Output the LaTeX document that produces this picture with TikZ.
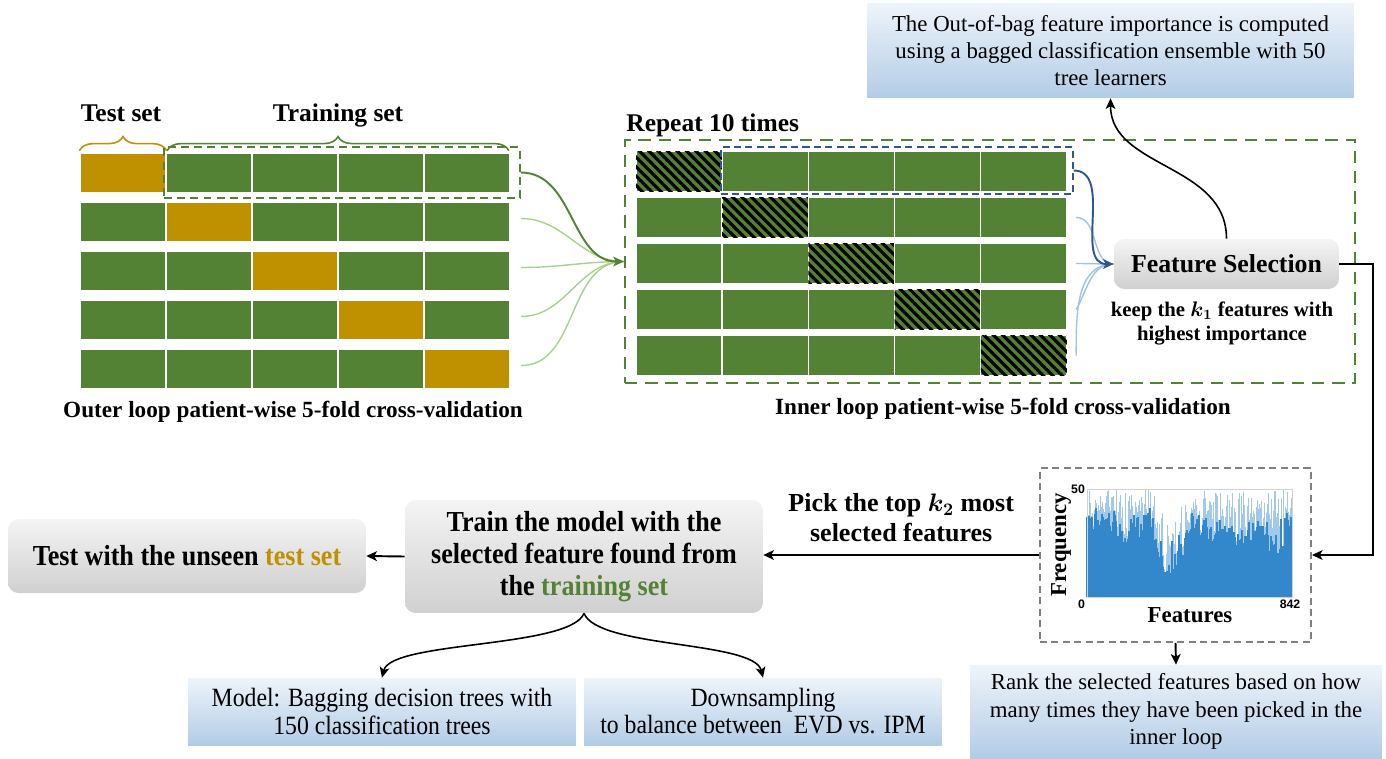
\documentclass[tikz,border=0pt]{standalone}
\usepackage{fontspec}
\setmainfont{Liberation Serif}
\setsansfont{Liberation Sans}
\newfontfamily\narrowfont[FakeStretch=0.9]{Liberation Serif}
\usepackage{bm}
\usetikzlibrary{arrows.meta,patterns.meta,decorations.pathreplacing,positioning}

\definecolor{cvgreen}{HTML}{548235}
\definecolor{cvgold}{HTML}{BF9000}
\definecolor{cvlightgreen}{HTML}{A9D18E}
\definecolor{cvblue}{HTML}{2F5597}
\definecolor{cvlightblue}{HTML}{9DC3E6}
\definecolor{histblue}{HTML}{3388CC}
\definecolor{boxtop}{HTML}{F4F4F4}
\definecolor{boxbot}{HTML}{D0D0D0}
\definecolor{notetop}{HTML}{EEF4FA}
\definecolor{notebot}{HTML}{B2CCE6}

\begin{document}
\begin{tikzpicture}[x=0.02cm, y=-0.02cm,
  cell/.style={draw=white, line width=0.7pt, fill=#1, minimum width=1.72cm,
               minimum height=0.8cm, inner sep=0pt},
  cell/.default=cvgreen,
  hatch/.style={cell, postaction={pattern={Lines[angle=-45,distance=3.8pt,line width=1.8pt]},
                pattern color=black}},
  ttl/.style={font=\bfseries\fontsize{14.5}{17}\selectfont, inner sep=0pt},
  loopcap/.style={font=\bfseries\fontsize{13.2}{16}\selectfont, inner sep=0pt},
  dbox/.style={draw=#1, dash pattern=on 4.5pt off 3pt, line width=0.9pt, inner sep=0pt},
  gbox/.style={rounded corners=6pt, top color=boxtop, bottom color=boxbot, align=center, inner sep=2pt},
  note/.style={top color=notetop, bottom color=notebot, align=center, inner sep=2pt,
               font=\fontsize{13}{15.6}\selectfont},
  arr/.style={-{Stealth[length=6pt,width=5.5pt,inset=1.5pt]}, line width=1.1pt},
  lbl/.style={font=\bfseries\fontsize{14.8}{17}\selectfont, align=center, inner sep=0pt},
  declare function={bump(\x,\c,\w)=max(0,1-((\x-\c)/\w)^2);},
]
\useasboundingbox (0,0) rectangle (1386,758);

%% Outer loop: 5 folds, gold = test fold
\foreach \r in {1,...,5}{
  \foreach \c in {1,...,5}{
    \ifnum\r=\c
      \node[cell=cvgold] (o-\r-\c) at ({123+86*(\c-1)},{173+49*(\r-1)}) {};
    \else
      \node[cell] (o-\r-\c) at ({123+86*(\c-1)},{173+49*(\r-1)}) {};
    \fi
  }
}
\draw[cvgold, line width=0.9pt, decorate, decoration={brace, amplitude=8pt}]
  ([yshift=1pt]o-1-1.north west) -- ([yshift=1pt]o-1-1.north east);
\draw[cvgreen, line width=0.9pt, decorate, decoration={brace, amplitude=8pt}]
  ([yshift=1pt,xshift=1pt]o-1-2.north west) -- ([yshift=1pt,xshift=-1pt]o-1-5.north east);
\node[ttl, anchor=base] (testlbl)  at (121,121) {Test set};
\node[ttl, anchor=base] (trainlbl) at (338,121) {Training set};
\node[dbox=cvgreen, minimum width=7.12cm, minimum height=1.02cm] (otrain) at (342,172.5) {};
\node[loopcap, anchor=base] (outercap) at (293,417) {Outer loop patient-wise 5-fold cross-validation};

%% Inner loop: hatched = validation fold
\foreach \r in {1,...,5}{
  \foreach \c in {1,...,5}{
    \ifnum\r=\c
      \node[hatch] (i-\r-\c) at ({679+86.2*(\c-1)},{171.5+46*(\r-1)}) {};
    \else
      \node[cell] (i-\r-\c) at ({679+86.2*(\c-1)},{171.5+46*(\r-1)}) {};
    \fi
  }
}
\node[dbox=cvgreen, dash pattern=on 7pt off 4.5pt, line width=1.4pt,
      minimum width=14.6cm, minimum height=4.86cm] (repeat) at (990,261.5) {};
\node[ttl, anchor=base west] (replbl) at (626,131) {Repeat 10 times};
\node[dbox=cvblue, dash pattern=on 4pt off 2.5pt, line width=0.8pt,
      minimum width=7.04cm, minimum height=0.94cm] (itrain) at (897,170.5) {};
\node[loopcap, anchor=base] (innercap) at (1003,414) {Inner loop patient-wise 5-fold cross-validation};

%% Outer folds feed the inner loop
\foreach \r in {2,...,5}
  \draw[cvlightgreen, line width=0.8pt] ([xshift=6pt,yshift=2pt]o-\r-5.east) to[out=0,in=180] (repeat.west);
\draw[cvgreen, line width=1.1pt, -{Stealth[length=6pt,width=5.5pt,inset=1.5pt]}]
  (otrain.east) to[out=0,in=180] (repeat.west);

%% Feature selection
\node[gbox, font=\bfseries\fontsize{14.7}{17}\selectfont, minimum width=4.5cm, minimum height=1cm]
  (fs) at (1226.5,264) {Feature Selection};
\node[font=\bfseries\fontsize{11.8}{13.7}\selectfont, align=center] (keep) at (1222,323)
  {keep the $\bm{k_1}$ features with\\highest importance};
\draw[cvlightblue, line width=0.8pt] ([xshift=5pt]i-2-5.east) to[out=0,in=180] (fs.west);
\draw[cvlightblue, line width=0.8pt] ([xshift=5pt]i-3-5.east) to[out=0,in=180] (fs.west);
\draw[cvlightblue, line width=0.8pt] ([xshift=5pt]i-4-5.east) to[out=60,in=180] (fs.west);
\draw[cvlightblue, line width=0.8pt] ([xshift=5pt]i-5-5.east) to[out=90,in=180] (fs.west);
\draw[cvblue, line width=1.1pt, -{Stealth[length=6pt,width=5.5pt,inset=1.5pt]}]
  (itrain.east) to[out=0,in=180] (fs.west);

\node[note, minimum width=9.74cm, minimum height=1.9cm] (oob) at (1110.5,50.5)
  {The Out-of-bag feature importance is computed\\using a bagged classification ensemble with 50\\tree learners};
\draw[arr, line width=0.9pt] (fs.north) .. controls +(0,-75) and +(0,70) .. (oob.south);

%% Histogram of selected features
\node[dbox=gray, line width=1.1pt, dash pattern=on 4pt off 2.5pt,
      minimum width=5.42cm, minimum height=3.48cm] (hist) at (1175.5,555) {};
\pgfmathsetseed{11}
\foreach \i in {0,...,204}{
  \pgfmathsetmacro{\u}{\i/204}
  \pgfmathsetmacro{\env}{0.66-0.4*bump(\u,0.41,0.1)-0.25*bump(\u,0.18,0.04)-0.3*bump(\u,0.93,0.05)-0.12*bump(\u,0.72,0.2)}
  \pgfmathsetmacro{\hlo}{min(1,\env+0.12*rand+(1-\env)*rnd*rnd*rnd*rnd)}
  \pgfmathsetmacro{\hhi}{\hlo+(1-\hlo)*rnd*(1-0.4*bump(\u,0.41,0.1))}
  \draw[histblue!45, line width=0.5pt] ({1087+\i},597) -- ({1087+\i},{597-108*\hhi});
  \draw[histblue, line width=0.6pt] ({1087+\i},597) -- ({1087+\i},{597-108*\hlo});
}
\draw[gray!35, line width=0.4pt] (1087,489) rectangle (1292,597);
\node[font=\sffamily\bfseries\fontsize{7}{8}\selectfont, anchor=east, inner sep=1pt] (ymax) at (1087,489) {50};
\node[font=\sffamily\bfseries\fontsize{7}{8}\selectfont, anchor=north east, inner sep=1pt] (ymin) at (1087,598) {0};
\node[font=\sffamily\bfseries\fontsize{7}{8}\selectfont, anchor=north, inner sep=1pt] (xmax) at (1290,598) {842};
\node[font=\bfseries\fontsize{13}{15}\selectfont, rotate=90] (freq) at (1061,545) {Frequency};
\node[font=\bfseries\fontsize{13}{15}\selectfont] (featlbl) at (1190,615) {Features};

\node[note, minimum width=8.24cm, minimum height=1.86cm] (rank) at (1176,711.5)
  {Rank the selected features based on how\\many times they have been picked in the\\inner loop};

%% Final model
\node[gbox, font=\narrowfont\bfseries\fontsize{16.5}{18.2}\selectfont, minimum width=7.16cm, minimum height=2.26cm]
  (train) at (584,556.5) {Train the model with the\\selected feature found from\\the \textcolor{cvgreen}{training set}};
\node[gbox, font=\narrowfont\bfseries\fontsize{16.5}{18.2}\selectfont, minimum width=7.16cm, minimum height=1.48cm]
  (test) at (187,556) {Test with the unseen \textcolor{cvgold}{test set}};
\node[note, font=\narrowfont\fontsize{15}{15.4}\selectfont, minimum width=7.76cm, minimum height=1.34cm]
  (model) at (382,711.5) {Model: Bagging decision trees with\\150 classification trees};
\node[note, font=\narrowfont\fontsize{15}{15.4}\selectfont, minimum width=7.16cm, minimum height=1.34cm]
  (down) at (763,711.5) {Downsampling\\to balance between\ \ EVD vs. IPM};

%% Arrows
\draw[arr] (fs.east) -- ++(34,0) |- (hist.east);
\draw[arr] (hist.south) -- (rank.north);
\draw[arr] (hist.west) -- node[lbl, above=7pt]{Pick the top $\bm{k_2}$ most\\selected features} (hist.west -| train.east);
\draw[arr] (train.west) -- (test.east);
\draw[arr, line width=0.9pt] (train.south) .. controls +(-14,35) and +(9,-37) .. (model.north);
\draw[arr, line width=0.9pt] (train.south) .. controls +(14,35) and +(-9,-37) .. (down.north);

\end{tikzpicture}
\end{document}
